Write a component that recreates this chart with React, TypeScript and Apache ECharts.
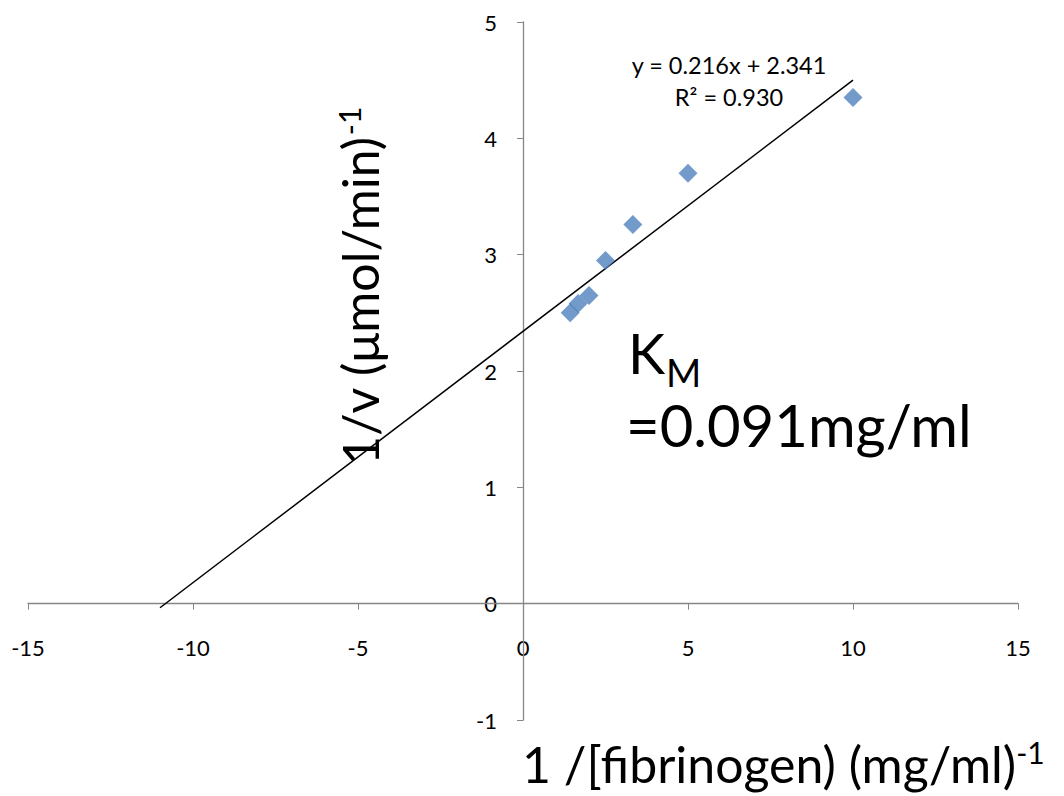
import React, { useEffect, useRef } from "react";
import * as echarts from "echarts";

const xValues = [1.43, 1.67, 2, 2.5, 3.33, 5, 10];
const yValues = [2.5, 2.58, 2.65, 2.95, 3.26, 3.7, 4.35];
const trendSlope = 0.216;
const trendIntercept = 2.341;
const trendXRange = [-11, 10];
const xTicks = [-15, -10, -5, 0, 5, 10, 15];
const yTicks = [-1, 0, 1, 2, 3, 4, 5];
const equationText = "y = 0.216x + 2.341";
const r2Text = "R² = 0.930";
const xAxisTitle = "1 /[fibrinogen) (mg/ml)";
const yAxisTitle = "1/v (μmol/min)";
const kmSymbol = "K";
const kmSubscript = "M";
const kmValueText = "=0.091mg/ml";

const FONT = "Lato, 'Open Sans', sans-serif";

export default function App() {
  const ref = useRef<HTMLDivElement>(null);
  useEffect(() => {
    if (!ref.current) return;
    const chart = echarts.init(ref.current, null, { renderer: "svg" });
    const points = xValues.map((x, i) => [x, yValues[i]]);
    const trend = trendXRange.map((x) => [x, trendSlope * x + trendIntercept]);
    chart.setOption({
      animation: false,
      backgroundColor: "#ffffff",
      grid: { left: 28, right: 46, top: 22, bottom: 76, containLabel: false, outerBoundsMode: "none" },
      xAxis: {
        type: "value",
        min: -15,
        max: 15,
        interval: 5,
        axisLine: { onZero: true, lineStyle: { color: "#868686", width: 1.3 } },
        axisTick: { show: true, length: 6, lineStyle: { color: "#868686" } },
        axisLabel: { show: false },
        splitLine: { show: false },
      },
      yAxis: {
        type: "value",
        min: -1,
        max: 5,
        interval: 1,
        axisLine: { show: true, onZero: true, lineStyle: { color: "#868686", width: 1.3 } },
        axisTick: { show: true, length: 6, lineStyle: { color: "#868686" } },
        axisLabel: { show: false },
        splitLine: { show: false },
      },
      series: [
        {
          type: "line",
          data: trend,
          symbol: "none",
          lineStyle: { color: "#000", width: 1.5 },
          z: 2,
        },
        {
          type: "scatter",
          data: points,
          symbol: "diamond",
          symbolSize: 19,
          itemStyle: { color: "#4F81BD" },
          z: 3,
        },
      ],
    });

    const tickLabels: any[] = [];
    xTicks.forEach((t) => {
      const p = chart.convertToPixel({ gridIndex: 0 }, [t, 0]) as number[];
      tickLabels.push({
        type: "text",
        x: p[0],
        y: p[1] + 44,
        style: { text: String(t), font: `22px ${FONT}`, fill: "#000", align: "center", verticalAlign: "middle" },
      });
    });
    yTicks.forEach((t) => {
      const p = chart.convertToPixel({ gridIndex: 0 }, [0, t]) as number[];
      tickLabels.push({
        type: "text",
        x: p[0] - 26,
        y: p[1],
        style: { text: String(t), font: `22px ${FONT}`, fill: "#000", align: "right", verticalAlign: "middle" },
      });
    });

    chart.setOption({
      graphic: [
        ...tickLabels,
        {
          type: "text",
          x: 729,
          y: 65,
          style: { text: equationText, font: `23.5px ${FONT}`, fill: "#000", align: "center", verticalAlign: "middle" },
        },
        {
          type: "text",
          x: 729,
          y: 97,
          style: { text: r2Text, font: `23.5px ${FONT}`, fill: "#000", align: "center", verticalAlign: "middle" },
        },
        {
          type: "text",
          x: 628,
          y: 352,
          style: { text: kmSymbol, font: `56px ${FONT}`, fill: "#000", align: "left", verticalAlign: "middle", lineHeight: 50 },
        },
        {
          type: "text",
          x: 666,
          y: 372,
          style: { text: kmSubscript, font: `38px ${FONT}`, fill: "#000", align: "left", verticalAlign: "middle", lineHeight: 30 },
        },
        {
          type: "text",
          x: 626,
          y: 424,
          style: { text: kmValueText, font: `58px ${FONT}`, fill: "#000", align: "left", verticalAlign: "middle", lineHeight: 58 },
        },
        {
          type: "text",
          x: 522,
          y: 764,
          style: {
            text: `{a|${xAxisTitle}}{s|-1}`,
            fill: "#000",
            align: "left",
            verticalAlign: "middle",
            rich: {
              a: { fontSize: 50, fontFamily: FONT, lineHeight: 54 },
              s: { fontSize: 30, fontFamily: FONT, verticalAlign: "top", padding: [0, 0, 22, 0] },
            },
          },
        },
        {
          type: "text",
          x: 360,
          y: 465,
          rotation: Math.PI / 2,
          style: {
            text: `{a|${yAxisTitle}}{s|-1}`,
            fill: "#000",
            align: "left",
            verticalAlign: "middle",
            rich: {
              a: { fontSize: 50, fontFamily: FONT },
              s: { fontSize: 30, fontFamily: FONT, verticalAlign: "top", padding: [0, 0, 22, 0] },
            },
          },
        },
      ],
    });
    return () => chart.dispose();
  }, []);
  return <div ref={ref} style={{ position: "fixed", left: 0, top: 0, width: 1064, height: 796 }} />;
}
